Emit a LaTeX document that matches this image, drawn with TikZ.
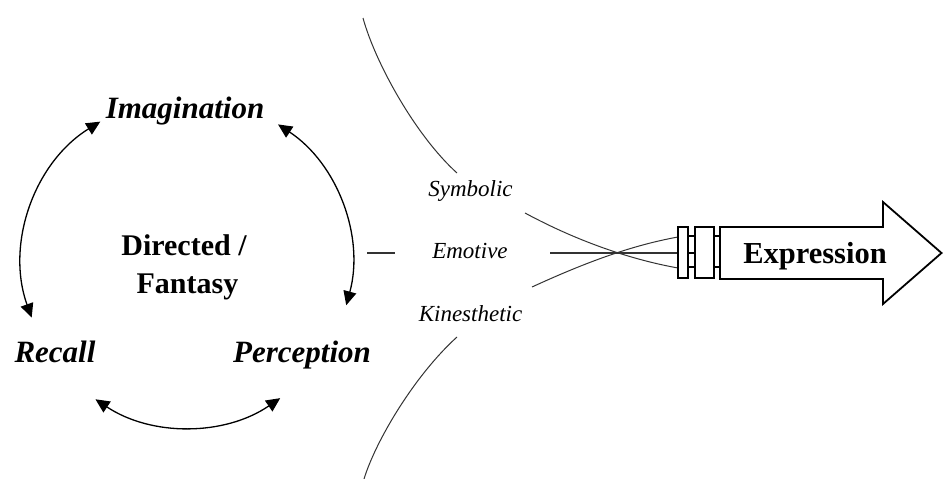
\documentclass[tikz,border=0pt]{standalone}
\usepackage{fontspec}
\setmainfont{Liberation Serif}
\usetikzlibrary{arrows.meta,calc}
\begin{document}
\begin{tikzpicture}[x=1pt,y=1pt,
  cyc/.style={line width=1.3pt,{Triangle[length=14pt,width=13pt]}-{Triangle[length=14pt,width=13pt]}},
  thinln/.style={line width=1pt,draw=black!80},
  plugln/.style={line width=1.8pt,line join=miter},
  bigit/.style={font=\fontsize{31}{36}\selectfont\bfseries\itshape,inner sep=0pt,anchor=base},
  bigbf/.style={font=\fontsize{30}{35}\selectfont\bfseries,inner sep=0pt,anchor=base},
  smallit/.style={font=\fontsize{23}{27}\selectfont\itshape,inner sep=0pt,anchor=base}
]
\useasboundingbox (0,0) rectangle (943,-479);
% cycle
\coordinate (c) at (187,-262);
\node[bigit] (ima) at (185,-118) {Imagination};
\node[bigit] (rec) at (55,-362) {Recall};
\node[bigit] (per) at (302,-362) {Perception};
\node[bigbf] (dir) at (184,-255) {Directed /};
\node[bigbf] (fan) at (187.5,-293) {Fantasy};
\draw[cyc] ([shift={(121.7:165pt)}]c) arc[start angle=121.7,end angle=199.7,radius=165pt];
\draw[cyc] ([shift={(56.5:165pt)}]c) arc[start angle=56.5,end angle=-15.2,radius=165pt];
\draw[cyc] ([shift={(236.3:165pt)}]c) arc[start angle=236.3,end angle=304.4,radius=165pt];
% middle labels
\node[smallit] (sym) at (470.5,-196) {Symbolic};
\node[smallit] (emo) at (470,-258) {Emotive};
\node[smallit] (kin) at (470.5,-321) {Kinesthetic};
% plug
\coordinate (dl) at (367,-253);
\coordinate (pS) at (678,-268);
\coordinate (pE) at (678,-253);
\coordinate (pK) at (678,-237);
\draw[thinln,line width=1.4pt] (dl) -- (395,-253);
\draw[thinln,line width=1.4pt] (550,-253) -- (pE);
\draw[thinln] (363,-18) .. controls (375,-62) and (415,-135) .. (457,-173);
\draw[thinln] (525,-213) .. controls (575,-240) and (628,-259) .. (pS);
\draw[thinln] (532,-287) .. controls (580,-265) and (628,-246) .. (pK);
\draw[thinln] (457,-337) .. controls (415,-375) and (376,-440) .. (364,-479);
\draw[plugln] (678,-227) rectangle (688,-278);
\draw[plugln] (695,-227) rectangle (714,-278);
\draw[plugln] (688,-236) -- (695,-236) (688,-253) -- (695,-253) (688,-267) -- (695,-267);
\draw[plugln] (714,-236) -- (720,-236) (714,-267) -- (720,-267);
\draw[plugln] (720,-227) -- (883,-227) -- (883,-202) -- (941.5,-253) -- (883,-304) -- (883,-279) -- (720,-279) -- cycle;
\node[bigbf,font=\fontsize{30.5}{35}\selectfont\bfseries] (exp) at (815,-263) {Expression};
\end{tikzpicture}
\end{document}
